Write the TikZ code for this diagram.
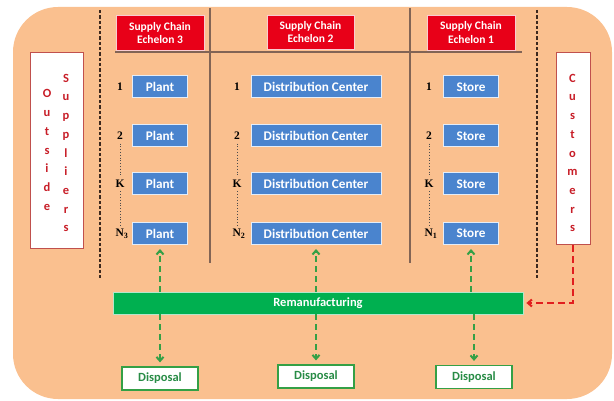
\documentclass[tikz,border=0pt]{standalone}
\usepackage{fontspec}
\setmainfont{Carlito}
\newfontfamily\serifnum{Liberation Serif}
\usetikzlibrary{arrows.meta}
\definecolor{bgpeach}{RGB}{250,192,143}
\definecolor{blubox}{RGB}{74,132,206}
\definecolor{redhead}{RGB}{232,0,24}
\definecolor{grnbar}{RGB}{0,176,80}
\definecolor{grnline}{RGB}{52,160,70}
\definecolor{grntext}{RGB}{40,140,70}
\definecolor{sidered}{RGB}{200,30,40}
\definecolor{sideborder}{RGB}{192,80,77}
\definecolor{divline}{RGB}{130,100,85}
\definecolor{reddash}{RGB}{225,30,30}
\definecolor{blackdash}{RGB}{60,40,30}
\begin{document}
\begin{tikzpicture}[x=1pt,y=-1pt,
  hdr/.style={fill=redhead, draw=white!80!redhead, line width=0.8pt, text=white,
    font=\bfseries\fontsize{11.5}{13.5}\selectfont, align=center,
    minimum width=88pt, minimum height=35pt, inner sep=0pt},
  blu/.style={fill=blubox, draw=white!85!blubox, line width=1pt, text=white,
    font=\bfseries\fontsize{13.2}{15}\selectfont, minimum height=22pt, inner sep=0pt},
  plantbox/.style={blu, minimum width=55pt},
  dcbox/.style={blu, minimum width=130pt},
  storebox/.style={blu, minimum width=55pt},
  num/.style={font=\serifnum\bfseries\fontsize{11.5}{13}\selectfont, inner sep=0.5pt},
  disp/.style={fill=white, draw=grnline, line width=1.2pt, text=grntext,
    font=\bfseries\fontsize{12.5}{14}\selectfont, minimum width=76pt, minimum height=23pt, inner sep=0pt},
  sidebox/.style={fill=white, draw=sideborder, line width=1pt, inner sep=0pt},
  sidetxt/.style={text=sidered, font=\bfseries\fontsize{12.5}{18.7}\selectfont, align=center, inner sep=0pt},
  garrow/.style={draw=grnline, line width=2pt, dash pattern=on 6pt off 4pt,
    -{Straight Barb[length=4pt,width=7pt]}, shorten >=4pt},
  rarrow/.style={draw=reddash, line width=2pt, dash pattern=on 7pt off 4pt,
    -{Straight Barb[length=4pt,width=7pt]}, shorten >=3pt},
  bdash/.style={draw=blackdash, line width=1.4pt, dash pattern=on 3.3pt off 2pt},
  divider/.style={draw=divline, line width=1.2pt},
  dotline/.style={draw=black!70, line width=0.8pt, dotted, shorten <=3pt, shorten >=3pt}
]
\useasboundingbox (0,0) rectangle (614,401);
\fill[bgpeach, rounded corners=45pt] (13,7) rectangle (612,399);

% dividers
\draw[bdash] (100,10) -- (100,279);
\draw[bdash] (537,10) -- (537,279);
\draw[divider] (210,8) -- (210,263);
\draw[divider] (410,8) -- (410,263);
\draw[divider] (115,52) -- (522,52);

% headers
\node[hdr] (e3) at (160,33) {Supply Chain\\Echelon 3};
\node[hdr, minimum width=87pt, minimum height=34pt] (e2) at (310.5,32) {Supply Chain\\Echelon 2};
\node[hdr] (e1) at (471,32.5) {Supply Chain\\Echelon 1};

% plants
\node[plantbox] (p1) at (160,87) {Plant};
\node[plantbox] (p2) at (160,136) {Plant};
\node[plantbox] (pk) at (160,184) {Plant};
\node[plantbox] (pn) at (160,233.5) {Plant};
\node[num] (lp1) at (120,87) {1};
\node[num] (lp2) at (120,136) {2};
\node[num] (lpk) at (120,184) {K};
\node[num] (lpn) at (122,233.5) {N\textsubscript{3}};
\draw[dotline] (lp2) -- (lpk);
\draw[dotline] (lpk) -- (lpn.north -| lpk.south);

% distribution centers
\node[dcbox] (c1) at (316,87) {Distribution Center};
\node[dcbox] (c2) at (316,136) {Distribution Center};
\node[dcbox] (ck) at (316,184) {Distribution Center};
\node[dcbox] (cn) at (316,233.5) {Distribution Center};
\node[num] (lc1) at (237,87) {1};
\node[num] (lc2) at (237,136) {2};
\node[num] (lck) at (237,184) {K};
\node[num] (lcn) at (239,233.5) {N\textsubscript{2}};
\draw[dotline] (lc2) -- (lck);
\draw[dotline] (lck) -- (lcn.north -| lck.south);

% stores
\node[storebox] (s1) at (471,87) {Store};
\node[storebox] (s2) at (471,136) {Store};
\node[storebox] (sk) at (471,184) {Store};
\node[storebox] (sn) at (471,233.5) {Store};
\node[num] (ls1) at (429,87) {1};
\node[num] (ls2) at (429,136) {2};
\node[num] (lsk) at (429,184) {K};
\node[num] (lsn) at (431,233.5) {N\textsubscript{1}};
\draw[dotline] (ls2) -- (lsk);
\draw[dotline] (lsk) -- (lsn.north -| lsk.south);

% side boxes
\node[sidebox, minimum width=53pt, minimum height=196pt] (sup) at (56.5,151) {};
\node[sidetxt] (suptxt1) at (47,150) {O\\u\\t\\s\\i\\d\\e};
\node[sidetxt] (suptxt2) at (66,153) {S\\u\\p\\p\\l\\i\\e\\r\\s};
\node[sidebox, minimum width=34pt, minimum height=192pt] (cust) at (573,149) {};
\node[sidetxt] (custtxt) at (572.5,153) {C\\u\\s\\t\\o\\m\\e\\r\\s};

% remanufacturing
\node[fill=grnbar, draw=white!70!grnbar, line width=0.8pt, text=white,
  font=\bfseries\fontsize{12.5}{14}\selectfont, minimum width=410pt, minimum height=22pt,
  inner sep=0pt] (rm) at (318,303) {Remanufacturing};

% disposal
\node[disp] (d1) at (160,378.5) {Disposal};
\node[disp] (d2) at (316,376.5) {Disposal};
\node[disp] (d3) at (474,377) {Disposal};

% arrows
\draw[garrow] (pn.south |- rm.north) -- (pn.south);
\draw[garrow] (cn.south |- rm.north) -- (cn.south);
\draw[garrow] (sn.south |- rm.north) -- (sn.south);
\draw[garrow] (d1.north |- rm.south) -- (d1.north);
\draw[garrow] (d2.north |- rm.south) -- (d2.north);
\draw[garrow] (d3.north |- rm.south) -- (d3.north);
\draw[rarrow] (cust.south) |- (rm.east);
\end{tikzpicture}
\end{document}
